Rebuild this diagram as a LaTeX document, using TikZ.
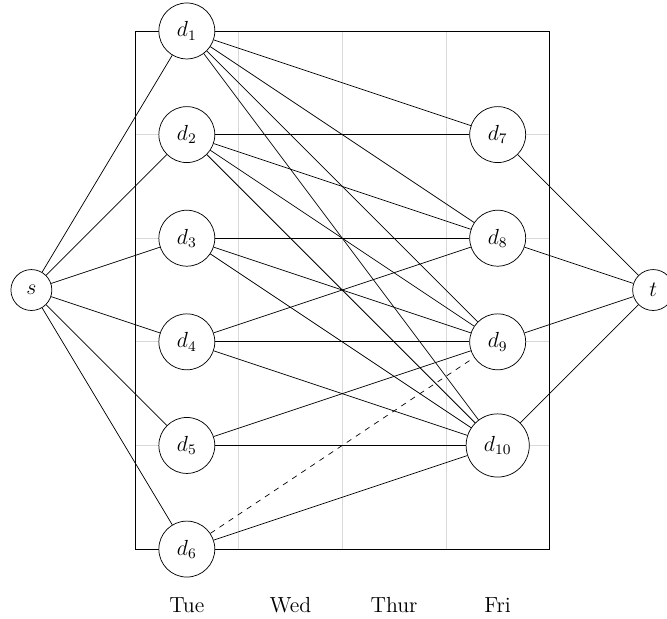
\documentclass[12pt,tikz,border=0pt]{standalone}
\begin{document}
\begin{tikzpicture}[x=2cm,y=2cm,
  dnode/.style={circle,draw,fill=white,minimum size=1.08cm,inner sep=0pt},
  bignode/.style={circle,draw,fill=white,minimum size=1.22cm,inner sep=0pt},
  stnode/.style={circle,draw,fill=white,minimum size=0.79cm,inner sep=0pt},
  daylabel/.style={inner sep=0pt},
  gridline/.style={gray!30,line width=0.4pt},
  edge/.style={line width=0.4pt}]
\useasboundingbox (-1.303,-0.666) rectangle (5.134,5.299);
\foreach \x in {1,2,3} \draw[gridline] (\x,0) -- (\x,5);
\foreach \y in {1,...,4} \draw[gridline] (0,\y) -- (4,\y);
\draw (0,0) rectangle (4,5);
\node[dnode] (d1) at (0.5,5) {$d_1$};
\node[dnode] (d2) at (0.5,4) {$d_2$};
\node[dnode] (d3) at (0.5,3) {$d_3$};
\node[dnode] (d4) at (0.5,2) {$d_4$};
\node[dnode] (d5) at (0.5,1) {$d_5$};
\node[dnode] (d6) at (0.5,0) {$d_6$};
\node[dnode] (d7) at (3.5,4) {$d_7$};
\node[dnode] (d8) at (3.5,3) {$d_8$};
\node[dnode] (d9) at (3.5,2) {$d_9$};
\node[bignode] (d10) at (3.5,1) {$d_{10}$};
\node[stnode] (s) at (-1,2.5) {$s$};
\node[stnode] (t) at (5,2.5) {$t$};
\node[daylabel] (tue) at (0.5,-0.54) {Tue};
\node[daylabel] (wed) at (1.5,-0.54) {Wed};
\node[daylabel] (thu) at (2.5,-0.54) {Thur};
\node[daylabel] (fri) at (3.5,-0.54) {Fri};
\foreach \i in {1,...,6} \draw[edge] (s) -- (d\i);
\foreach \i in {7,...,10} \draw[edge] (d\i) -- (t);
\foreach \i in {1,2} \draw[edge] (d\i) -- (d7);
\foreach \i in {1,...,4} \draw[edge] (d\i) -- (d8);
\foreach \i in {1,...,5} \draw[edge] (d\i) -- (d9);
\foreach \i in {1,...,6} \draw[edge] (d\i) -- (d10);
\draw[edge,dashed] (d6) -- (d9);
\end{tikzpicture}
\end{document}
